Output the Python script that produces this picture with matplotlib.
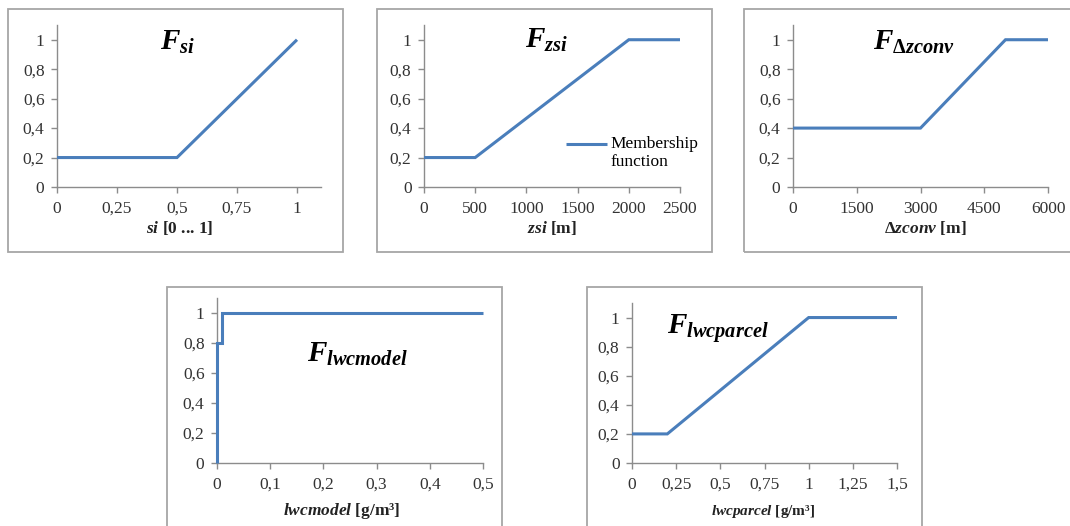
import matplotlib
matplotlib.use('Agg')
import matplotlib.pyplot as plt
from matplotlib.patches import Rectangle

plt.rcParams['font.family'] = ['Liberation Serif', 'DejaVu Serif']
plt.rcParams['mathtext.fontset'] = 'custom'
plt.rcParams['mathtext.it'] = 'Liberation Serif:italic:bold'
plt.rcParams['mathtext.rm'] = 'Liberation Serif:bold'
plt.rcParams['mathtext.bf'] = 'Liberation Serif:bold'

# data: membership functions
si_x = [0, 0.5, 1]
si_y = [0.2, 0.2, 1]
zsi_x = [0, 500, 2000, 2500]
zsi_y = [0.2, 0.2, 1, 1]
dz_x = [0, 3000, 5000, 6000]
dz_y = [0.4, 0.4, 1, 1]
lwcm_x = [0, 0, 0.01, 0.01, 0.5]
lwcm_y = [0, 0.8, 0.8, 1, 1]
lwcp_x = [0, 0.2, 1, 1.5]
lwcp_y = [0.2, 0.2, 1, 1]

y_ticks = [0, 0.2, 0.4, 0.6, 0.8, 1]
y_labels = ['0', '0,2', '0,4', '0,6', '0,8', '1']

si_ticks = [0, 0.25, 0.5, 0.75, 1]
si_labels = ['0', '0,25', '0,5', '0,75', '1']
zsi_ticks = [0, 500, 1000, 1500, 2000, 2500]
zsi_labels = ['0', '500', '1000', '1500', '2000', '2500']
dz_ticks = [0, 1500, 3000, 4500, 6000]
dz_labels = ['0', '1500', '3000', '4500', '6000']
lwcm_ticks = [0, 0.1, 0.2, 0.3, 0.4, 0.5]
lwcm_labels = ['0', '0,1', '0,2', '0,3', '0,4', '0,5']
lwcp_ticks = [0, 0.25, 0.5, 0.75, 1, 1.25, 1.5]
lwcp_labels = ['0', '0,25', '0,5', '0,75', '1', '1,25', '1,5']

W, H = 1070, 526
fig = plt.figure(figsize=(W / 100, H / 100), dpi=100)

LINE = '#4a7ebb'
GRAY = '#8c8c8c'


def px_axes(l, t, r, b):
    return fig.add_axes([l / W, 1 - b / H, (r - l) / W, (b - t) / H])


def frame(l, t, r, b):
    fig.add_artist(Rectangle((l / W, 1 - b / H), (r - l) / W, (b - t) / H,
                             transform=fig.transFigure, fill=False,
                             edgecolor='#a6a6a6', lw=1.3))


def setup(ax, xs, ys, xt, xl, xlim):
    ln, = ax.plot(xs, ys, color=LINE, lw=2.2, clip_on=False, zorder=5,
                  solid_capstyle='butt', solid_joinstyle='miter')
    ax.set_xlim(*xlim)
    ax.set_ylim(0, 1.1)
    ax.set_xticks(xt)
    ax.set_xticklabels(xl)
    ax.set_yticks(y_ticks)
    ax.set_yticklabels(y_labels)
    for s in ['top', 'right']:
        ax.spines[s].set_visible(False)
    for s in ['left', 'bottom']:
        ax.spines[s].set_color(GRAY)
        ax.spines[s].set_linewidth(1.0)
    ax.tick_params(axis='both', direction='out', length=4, width=1.0,
                   color=GRAY, labelsize=12.5, labelcolor='#333333')
    ax.tick_params(axis='x', pad=6)
    ax.tick_params(axis='y', pad=5)
    ax.patch.set_alpha(0)
    return ln


def ftext(x, y, s, **kw):
    fig.text(x / W, 1 - y / H, s, **kw)


# frames
frame(8, 9, 343, 252)
frame(377, 9, 712, 252)
frame(744, 9, 1075, 252)
frame(167, 287, 502, 530)
frame(587, 287, 922, 530)

ax1 = px_axes(57, 25, 321, 187)
setup(ax1, si_x, si_y, si_ticks, si_labels, (0, 1.1))
ax2 = px_axes(424, 25, 680, 187)
l2 = setup(ax2, zsi_x, zsi_y, zsi_ticks, zsi_labels, (0, 2500))
ax3 = px_axes(793, 25, 1048, 187)
setup(ax3, dz_x, dz_y, dz_ticks, dz_labels, (0, 6000))
ax4 = px_axes(217, 298, 483, 463)
setup(ax4, lwcm_x, lwcm_y, lwcm_ticks, lwcm_labels, (0, 0.5))
ax5 = px_axes(632, 303, 897, 463)
setup(ax5, lwcp_x, lwcp_y, lwcp_ticks, lwcp_labels, (0, 1.5))

ax2.legend([l2], ['Membership\nfunction'], loc='upper left',
           bbox_to_anchor=(0.52, 0.37), frameon=False, fontsize=12.5,
           handlelength=2.4, handletextpad=0.15, borderpad=0,
           labelspacing=0)
leg = ax2.get_legend()
# keep the legend sample level with the first text line
leg.get_lines()[0].set_transform(
    leg.get_lines()[0].get_transform() +
    matplotlib.transforms.ScaledTranslation(0, 9 / 100, fig.dpi_scale_trans))

# panel titles
tkw = dict(fontsize=21, ha='left', va='baseline', color='black')
ftext(160, 50, r'$\mathit{F}_{\mathit{si}}$', **tkw)
ftext(525, 48, r'$\mathit{F}_{\mathit{zsi}}$', **tkw)
ftext(873, 50, r'$\mathit{F}_{\Delta\mathit{zconv}}$', **tkw)
ftext(307, 362, r'$\mathit{F}_{\mathit{lwcmodel}}$', **tkw)
ftext(667, 334, r'$\mathit{F}_{\mathit{lwcparcel}}$', **tkw)

# axis labels
lkw = dict(fontsize=12.5, ha='center', va='center', fontweight='bold',
           color='#222222')
ftext(180, 228, r'$\mathit{si}$ [0 ... 1]', **lkw)
ftext(552, 228, r'$\mathit{zsi}$ [m]', **lkw)
ftext(925, 228, r'Δ$\mathit{zconv}$ [m]', **lkw)
ftext(342, 511, r'$\mathit{lwcmodel}$ [g/m³]', **lkw)
ftext(763, 511, r'$\mathit{lwcparcel}$ [g/m³]', fontsize=11, ha='center',
      va='center', fontweight='bold', color='#222222')

fig.savefig('out.png', dpi=100)
